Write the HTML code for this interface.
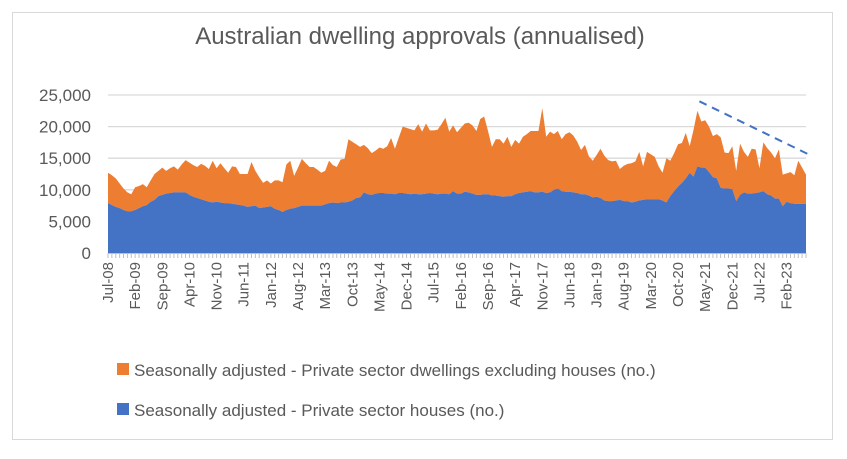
<!DOCTYPE html>
<html><head><meta charset="utf-8"><style>
body{margin:0;background:#fff;}
svg text{font-family:"Liberation Sans",sans-serif;}
</style></head><body>
<svg id="chart" width="847" height="454" xmlns="http://www.w3.org/2000/svg">
<rect x="12.5" y="12.5" width="820" height="427" fill="#fff" stroke="#d9d9d9"/>
<text x="420" y="44" text-anchor="middle" font-size="24" fill="#595959">Australian dwelling approvals (annualised)</text>
<g id="grid"></g><g id="areas"></g><g id="axes"></g>
<g>
<rect x="117" y="363" width="12" height="12" fill="#ed7d31"/>
<text x="134" y="376" font-size="17" fill="#595959">Seasonally adjusted - Private sector dwellings excluding houses (no.)</text>
<rect x="117" y="403" width="12" height="12" fill="#4472c4"/>
<text x="134" y="416" font-size="17" fill="#595959">Seasonally adjusted - Private sector houses (no.)</text>
</g>
</svg>
<script>
const houses=[7.9,7.6,7.3,7.1,6.8,6.6,6.6,6.8,7.1,7.4,7.6,8.1,8.4,9.0,9.2,9.4,9.5,9.6,9.6,9.6,9.6,9.2,8.9,8.7,8.5,8.3,8.1,8.0,8.1,8.0,7.9,7.9,7.8,7.7,7.6,7.5,7.3,7.4,7.5,7.1,7.2,7.3,7.4,7.0,6.8,6.5,6.8,7.0,7.1,7.3,7.5,7.5,7.5,7.5,7.5,7.5,7.7,7.9,8.0,7.9,8.0,8.0,8.1,8.3,8.7,8.8,9.6,9.3,9.2,9.4,9.5,9.5,9.4,9.4,9.3,9.5,9.5,9.4,9.3,9.4,9.3,9.3,9.4,9.5,9.4,9.3,9.4,9.4,9.3,9.8,9.4,9.4,9.7,9.6,9.4,9.2,9.2,9.3,9.3,9.1,9.1,9.0,8.9,9.0,9.0,9.3,9.5,9.6,9.7,9.8,9.6,9.6,9.7,9.5,9.6,10.0,10.2,9.8,9.7,9.7,9.6,9.5,9.3,9.3,9.1,8.8,8.9,8.7,8.3,8.2,8.2,8.3,8.4,8.2,8.2,8.0,8.1,8.3,8.4,8.5,8.5,8.5,8.5,8.3,8.0,9.0,9.8,10.5,11.1,11.8,12.7,12.1,13.7,13.5,13.5,12.8,12.0,11.8,10.3,10.2,10.2,10.1,8.2,9.2,9.6,9.4,9.4,9.5,9.6,9.8,9.3,9.1,8.6,8.6,7.4,8.1,7.9,7.8,7.8,7.8,7.8];
const totalApprovals=[12.7,12.3,11.8,11.0,10.2,9.6,9.3,10.4,10.6,10.9,10.4,11.5,12.5,13.0,13.5,13.0,13.4,13.7,13.2,14.0,14.7,14.3,13.9,13.6,14.1,13.8,13.3,14.6,13.4,14.2,13.4,12.7,13.7,13.6,12.5,12.5,12.5,14.4,13.0,12.0,11.1,11.5,11.0,11.5,11.5,11.2,14.0,14.6,12.2,13.5,14.9,14.2,13.6,13.6,13.2,12.7,13.0,14.6,13.9,13.6,14.8,14.9,18.0,17.6,17.2,16.8,17.1,16.6,15.8,16.2,16.7,16.5,16.9,18.2,16.5,18.3,20.0,19.8,19.6,19.4,20.4,19.2,20.5,19.4,19.4,19.5,20.4,21.4,19.2,20.2,19.1,19.8,20.5,20.6,20.2,19.3,21.2,21.6,19.3,16.8,18.0,18.0,17.3,18.4,16.8,17.9,17.3,18.4,18.8,19.3,19.3,19.3,22.9,18.4,19.2,18.8,19.3,18.0,18.8,19.1,18.6,17.6,16.3,17.1,15.3,14.6,15.5,16.5,15.4,14.7,14.5,14.6,13.3,13.8,14.1,14.2,14.5,16.0,13.7,16.0,15.6,15.2,13.7,12.7,15.0,14.6,15.8,17.2,17.4,19.0,16.9,19.5,22.5,20.8,21.0,20.0,18.5,18.8,18.3,15.9,15.8,16.9,13.0,17.3,16.0,15.2,16.5,16.4,13.4,17.5,16.6,15.9,15.0,16.4,12.4,12.6,12.8,12.3,14.6,13.5,12.4];
const yTicks=[0,5000,10000,15000,20000,25000];
const monthNames=["Jan","Feb","Mar","Apr","May","Jun","Jul","Aug","Sep","Oct","Nov","Dec"];
const trendMonths=[152.5,181];
const trendValues=[24000,15500];

const NS="http://www.w3.org/2000/svg";
const X0=108,X1=806,Y0=253,Y1=95;
const N=Math.min(houses.length,totalApprovals.length);
const xs=i=>X0+i*(X1-X0)/(N-1);
const ys=v=>Y0-v/25000*(Y0-Y1);
function mk(tag,attrs,parent){const e=document.createElementNS(NS,tag);for(const k in attrs)e.setAttribute(k,attrs[k]);parent.appendChild(e);return e;}
const gridG=document.getElementById('grid'),areasG=document.getElementById('areas'),axesG=document.getElementById('axes');
yTicks.forEach(t=>{
  if(t>0){const l=mk('line',{x1:X0,x2:X1,y1:ys(t),y2:ys(t),stroke:'#d9d9d9','stroke-width':1.3},gridG);
  
  }
  const tx=mk('text',{x:91,y:ys(t)+6,'text-anchor':'end','font-size':17,fill:'#595959'},axesG);
  tx.textContent=t.toLocaleString('en-US');
  
  
});
const others=houses.map((h,i)=>totalApprovals[i]-h);
let topPath='',botPath='';
for(let i=0;i<N;i++){topPath+=(i?'L':'M')+xs(i)+','+ys((houses[i]+others[i])*1000);}
for(let i=N-1;i>=0;i--){botPath+='L'+xs(i)+','+ys(houses[i]*1000);}
const a1=mk('path',{d:topPath+botPath+'Z',fill:'#ed7d31'},areasG);


let hp='M'+xs(0)+','+Y0;
for(let i=0;i<N;i++)hp+='L'+xs(i)+','+ys(houses[i]*1000);
hp+='L'+xs(N-1)+','+Y0+'Z';
const a2=mk('path',{d:hp,fill:'#4472c4'},areasG);


const tl=mk('line',{x1:xs(trendMonths[0]),y1:ys(trendValues[0]),x2:xs(trendMonths[1]),y2:ys(trendValues[1]),stroke:'#4472c4','stroke-width':2,'stroke-dasharray':'8,6'},areasG);


const ax=mk('line',{x1:X0,x2:X1,y1:Y0+0.5,y2:Y0+0.5,stroke:'#bfbfbf','stroke-width':1},axesG);


for(let i=0;i<N;i++){
  const tk=mk('line',{x1:xs(i),x2:xs(i),y1:Y0,y2:Y0+5,stroke:'#bfbfbf','stroke-width':1},axesG);
  
  
  if(i%7===0){
    const m=(6+i)%12,yr=8+Math.floor((6+i)/12);
    const lab=monthNames[m]+'-'+String(yr).padStart(2,'0');
    const t=mk('text',{x:0,y:0,'text-anchor':'end','font-size':15,fill:'#595959',transform:'translate('+(xs(i)+5)+','+(Y0+9)+') rotate(-90)'},axesG);
    t.textContent=lab;
    
    
  }
}
</script>
</body></html>
